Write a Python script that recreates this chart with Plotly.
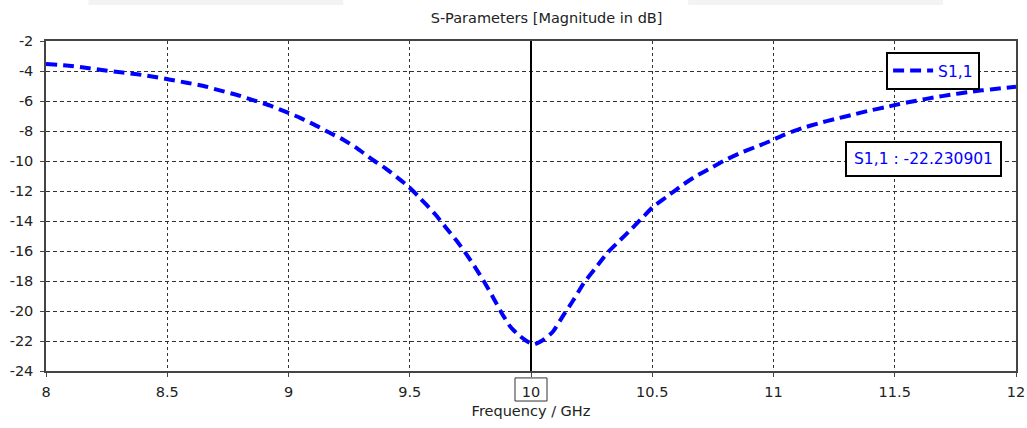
import plotly.graph_objects as go

# ---- data ----
freq_ghz = [8.0, 8.094, 8.163, 8.23, 8.307, 8.376, 8.45, 8.513, 8.58, 8.65,
            8.72, 8.788, 8.857, 8.925, 8.987, 9.05, 9.104, 9.166, 9.228, 9.283,
            9.345, 9.40, 9.448, 9.495, 9.537, 9.605, 9.647, 9.695, 9.736, 9.777,
            9.811, 9.846, 9.88, 9.915, 9.949, 9.98, 10.01, 10.05, 10.09, 10.13,
            10.175, 10.217, 10.265, 10.313, 10.361, 10.41, 10.457, 10.505, 10.56, 10.615,
            10.677, 10.739, 10.80, 10.86, 10.925, 10.987, 11.048, 11.117, 11.185, 11.254,
            11.323, 11.39, 11.46, 11.52, 11.59, 11.66, 11.73, 11.80, 11.86, 11.93, 12.0]
s11_db = [-3.53, -3.65, -3.78, -3.93, -4.09, -4.22, -4.40, -4.58, -4.78, -5.00,
          -5.31, -5.60, -5.96, -6.31, -6.71, -7.14, -7.56, -8.09, -8.60, -9.16,
          -9.90, -10.49, -11.09, -11.71, -12.38, -13.55, -14.40, -15.35, -16.27, -17.27,
          -18.16, -19.16, -20.16, -21.05, -21.60, -21.98, -22.23, -21.93, -21.38, -20.38,
          -19.27, -18.16, -17.16, -16.16, -15.38, -14.60, -13.82, -13.04, -12.38, -11.71,
          -11.04, -10.49, -9.95, -9.49, -9.07, -8.67, -8.22, -7.82, -7.49, -7.20,
          -6.93, -6.66, -6.42, -6.20, -5.98, -5.77, -5.58, -5.42, -5.29, -5.17, -5.05]

x_tickvals = [8, 8.5, 9, 9.5, 10, 10.5, 11, 11.5, 12]
x_ticktext = ["8", "8.5", "9", "9.5", "10", "10.5", "11", "11.5", "12"]
y_tickvals = [-2, -4, -6, -8, -10, -12, -14, -16, -18, -20, -22, -24]
y_ticktext = ["-2", "-4", "-6", "-8", "-10", "-12", "-14", "-16", "-18", "-20", "-22", "-24"]

series_name = "S1,1"
marker_freq = 10
marker_label = "S1,1 : -22.230901"
title_text = "S-Parameters [Magnitude in dB]"
x_title = "Frequency / GHz"

FONT = "DejaVu Sans"
FS = 14.5

fig = go.Figure()
fig.add_trace(go.Scatter(
    x=freq_ghz, y=s11_db, mode="lines", name=series_name,
    line=dict(color="#0000ff", width=4, dash="11px,6px", shape="spline", smoothing=0.6),
))

fig.update_layout(
    width=1027, height=428,
    margin=dict(l=45.5, r=11, t=41, b=57, autoexpand=False),
    paper_bgcolor="white", plot_bgcolor="white",
    font=dict(family=FONT, size=FS, color="#222"),
    title=dict(text=title_text, x=530 / 1027, xref="paper", xanchor="center",
               y=1 - 18 / 428, yanchor="middle", font=dict(family=FONT, size=FS, color="#222")),
    showlegend=True,
    legend=dict(x=0.963, y=0.967, xanchor="right", yanchor="top",
                bgcolor="white", bordercolor="black", borderwidth=2,
                font=dict(family=FONT, size=15.5, color="#0000ff"),
                itemwidth=40, tracegroupgap=0),
)

fig.update_xaxes(
    range=[8, 12], tickmode="array", tickvals=x_tickvals, ticktext=x_ticktext,
    showgrid=True, gridcolor="#333", griddash="3px,3px", gridwidth=1,
    showline=True, linecolor="#444", linewidth=1.5, mirror=True,
    ticks="outside", ticklen=4, tickcolor="#444", ticklabelstandoff=3,
    tickfont=dict(family=FONT, size=FS, color="#222"),
    title=dict(text=x_title, font=dict(family=FONT, size=FS, color="#222"), standoff=7),
    zeroline=False, automargin=False,
)
fig.update_yaxes(
    range=[-24, -2], tickmode="array", tickvals=y_tickvals, ticktext=y_ticktext,
    showgrid=True, gridcolor="#333", griddash="4px,3px", gridwidth=1,
    showline=True, linecolor="#444", linewidth=1.5, mirror=True,
    ticks="outside", ticklen=4, tickcolor="#444", ticklabelstandoff=4,
    tickfont=dict(family=FONT, size=FS, color="#222"),
    zeroline=False, automargin=False,
)

# marker vertical line
fig.add_shape(type="line", xref="x", yref="paper", x0=marker_freq, x1=marker_freq,
              y0=0, y1=1, line=dict(color="black", width=2))
# box around marker tick label
fig.add_shape(type="rect", xref="x", yref="paper", x0=marker_freq - 0.066, x1=marker_freq + 0.066,
              y0=-0.091, y1=-0.021, line=dict(color="#333", width=1))

# marker readout box
fig.add_annotation(xref="paper", yref="paper", x=(923.5 - 45.5) / 970.5, y=(371 - 158.5) / 330,
                   xanchor="center", yanchor="middle",
                   text=marker_label, showarrow=False,
                   font=dict(family=FONT, size=15.5, color="#0000ff"),
                   bgcolor="white", bordercolor="black", borderwidth=2, borderpad=7)

# faint top bars
for x0, x1 in [(88, 343), (688, 943)]:
    fig.add_shape(type="rect", xref="paper", yref="paper",
                  x0=(x0 - 45.5) / 970.5, x1=(x1 - 45.5) / 970.5,
                  y0=(371 - 5) / 330, y1=(371 - 0) / 330,
                  fillcolor="#f3f3f3", line=dict(width=0), layer="below")

fig.write_html("out.html")
